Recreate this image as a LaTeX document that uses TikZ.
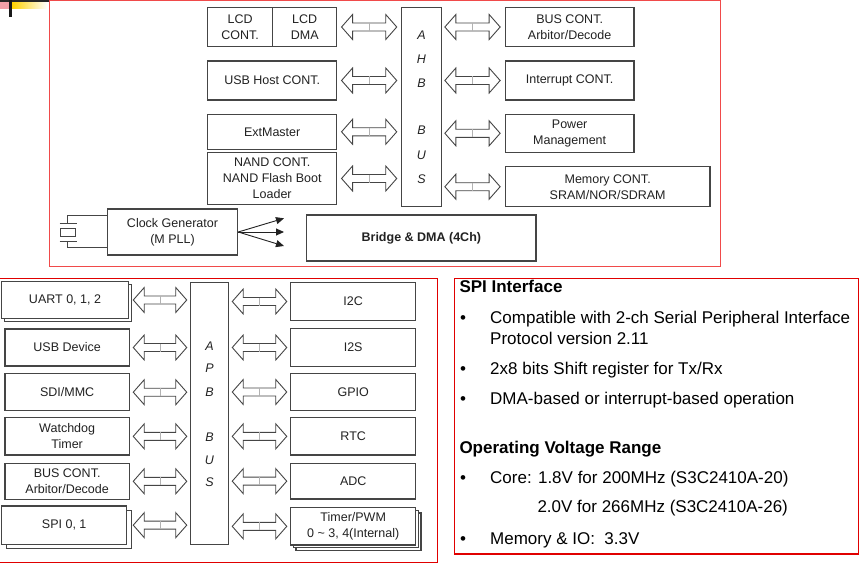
\documentclass[tikz,border=0pt]{standalone}
\usepackage{fontspec}
\setmainfont{Liberation Sans}
\usetikzlibrary{calc,arrows.meta}
\definecolor{topred}{HTML}{F04A4A}
\definecolor{botred}{HTML}{E00000}
\definecolor{ln}{HTML}{454545}
\definecolor{tx}{HTML}{222222}
\definecolor{goldy}{HTML}{FFD200}
\definecolor{pinky}{HTML}{F2A0A8}
\tikzset{
  box/.style={draw=ln, line width=1.1pt, fill=white, align=center, inner sep=0pt,
    text=tx, font=\fontsize{12.5}{16}\selectfont},
  backbox/.style={draw=ln, line width=1.1pt, fill=white},
  harrow/.style={draw=ln, line width=0.9pt, fill=white, line join=miter},
  midtick/.style={draw=black!30, line width=0.5pt},
  busletter/.style={font=\fontsize{12.5}{15}\selectfont\itshape, text=tx, inner sep=0pt},
  toppanel/.style={draw=topred, line width=1.3pt},
  botpanel/.style={draw=botred, line width=1.2pt},
  spec/.style={anchor=base west, inner sep=0pt, font=\fontsize{17}{20}\selectfont, text=black},
  spechead/.style={spec, font=\fontsize{17}{20}\selectfont\bfseries},
  bul/.style={anchor=base, inner sep=0pt, font=\fontsize{17}{20}\selectfont, text=black},
  clkarrow/.style={draw=tx, line width=0.9pt, -{Triangle[length=8pt,width=7pt]}},
  wire/.style={draw=ln, line width=1pt},
}
% \blk[style]{name}{x1}{y1}{x2}{y2}{text}
\newcommand\blk[7][]{\node[box,minimum width={#5-#3},minimum height={#6-#4},#1] (#2) at ({(#3+#5)/2},{(#4+#6)/2}) {#7};}
% \dar{from}{to}{gap1}{gap2}
\newcommand\dar[4]{%
  \path ($(#1)+(#3,0)$) coordinate (p) ($(#2)+(-#4,0)$) coordinate (q);
  \draw[harrow] (p) -- ($(p)+(11,-12.5)$) -- ($(p)+(11,-4)$) -- ($(q)+(-11,-4)$)
    -- ($(q)+(-11,-12.5)$) -- (q) -- ($(q)+(-11,12.5)$) -- ($(q)+(-11,4)$)
    -- ($(p)+(11,4)$) -- ($(p)+(11,12.5)$) -- cycle;
  \draw[midtick] ($(p)!0.5!(q)+(0,-4)$) -- ($(p)!0.5!(q)+(0,4)$);}
\begin{document}
\begin{tikzpicture}[x=1pt,y=-1pt]
\useasboundingbox (0,0) rectangle (864,567);
% ---- top-left decoration
\shade[left color=goldy, right color=white] (12,2) rectangle (47,9);
\fill[pinky] (0,2) rectangle (9,9);
\fill[black!85] (0,0) rectangle (49,2);
\fill[black!90] (9,0) rectangle (12,16.7);

% ================= TOP PANEL =================
\draw[toppanel] (49.3,0.7) rectangle (720.7,266.7);
\blk{lcdc}{207.7}{7.3}{272.7}{46.7}{LCD\\CONT.}
\blk{lcdd}{272.7}{7.3}{336.7}{46.7}{LCD\\DMA}
\blk{usbh}{207.7}{61}{336.7}{100}{USB Host CONT.}
\blk{extm}{207.7}{114.3}{336.7}{149.3}{ExtMaster}
\blk{nand}{207.7}{152.3}{336.7}{204.7}{NAND CONT.\\NAND Flash Boot\\Loader}
\blk{ahb}{401.7}{7.3}{441.3}{206.7}{}
\node[busletter] (ahbA) at (421.5,35) {A};
\node[busletter] (ahbH) at (421.5,59.3) {H};
\node[busletter] (ahbB) at (421.5,83.3) {B};
\node[busletter] (ahbB2) at (421.5,130.7) {B};
\node[busletter] (ahbU) at (421.5,155) {U};
\node[busletter] (ahbS) at (421.5,179) {S};
\blk{busc}{505.3}{7.3}{634}{46.7}{BUS CONT.\\Arbitor/Decode}
\blk{intc}{505.3}{61}{634}{100}{Interrupt CONT.}
\blk{pwr}{505.3}{114.3}{634}{152.3}{Power\\Management}
\blk{mem}{505.3}{166.7}{710}{206.7}{Memory CONT.\\SRAM/NOR/SDRAM}
\blk[font=\fontsize{12.5}{16}\selectfont\bfseries]{brdg}{306.7}{215}{536}{261}{Bridge \& DMA (4Ch)}
\blk{clk}{107.3}{209}{237.7}{255}{Clock Generator\\(M PLL)}

\dar{lcdd.east}{ahb.west |- lcdd.east}{4.3}{4.4}
\dar{usbh.east}{ahb.west |- usbh.east}{4.3}{4.4}
\dar{extm.east}{ahb.west |- extm.east}{4.3}{4.4}
\dar{nand.east}{ahb.west |- nand.east}{4.3}{4.4}
\dar{ahb.east |- busc.west}{busc.west}{3}{4.6}
\dar{ahb.east |- intc.west}{intc.west}{3}{4.6}
\dar{ahb.east |- pwr.west}{pwr.west}{3}{4.6}
\dar{ahb.east |- mem.west}{mem.west}{3}{4.6}

% clock outputs
\coordinate (co1) at (284,218.3);
\coordinate (co2) at (284,232);
\coordinate (co3) at (284,246);
\draw[clkarrow] (clk.east) -- (co1);
\draw[clkarrow] (clk.east) -- (co2);
\draw[clkarrow] (clk.east) -- (co3);
% crystal
\coordinate (xt) at (clk.west |- 0,215.5);
\coordinate (xb) at (clk.west |- 0,247.5);
\draw[wire] (xt) -- (67.5,215.5) -- (67.5,223);
\draw[wire] (xb) -- (67.5,247.5) -- (67.5,241);
\draw[wire] (59.5,223) -- (76.5,223);
\draw[wire] (59.5,241) -- (76.5,241);
\draw[wire] (60.5,228) rectangle (75.5,236);

% ================= BOTTOM-LEFT PANEL =================
\draw[botpanel] (-2,278.3) rectangle (437.3,562.5);
\draw[backbox] (4.7,284.7) rectangle (131.3,321.3);
\blk{uart}{1.7}{281.7}{128.3}{318.3}{UART 0, 1, 2}
\blk{usbd}{5}{329}{129.3}{366}{USB Device}
\blk{sdi}{5}{373.7}{129.3}{410.7}{SDI/MMC}
\blk{wdt}{5}{417.7}{129.3}{455}{Watchdog\\Timer}
\blk{busc2}{5}{463.3}{129.3}{499.3}{BUS CONT.\\Arbitor/Decode}
\draw[backbox] (6.2,510.5) rectangle (131.2,548.8);
\blk{spi}{1.7}{506}{126.7}{544.3}{SPI 0, 1}
\blk{apb}{190.7}{282.3}{228.3}{544.3}{}
\node[busletter] (apbA) at (209.5,345.7) {A};
\node[busletter] (apbP) at (209.5,367.7) {P};
\node[busletter] (apbB) at (209.5,391.7) {B};
\node[busletter] (apbB2) at (209.5,437.3) {B};
\node[busletter] (apbU) at (209.5,460) {U};
\node[busletter] (apbS) at (209.5,482.3) {S};
\blk{i2c}{290.7}{282.3}{415.7}{320.7}{I2C}
\blk{i2s}{290.7}{328.3}{415.7}{366.7}{I2S}
\blk{gpio}{290.7}{373.3}{415.7}{410.7}{GPIO}
\blk{rtc}{290.7}{417.7}{415.7}{455}{RTC}
\blk{adc}{290.7}{463.3}{415.7}{499}{ADC}
\draw[backbox] (296,513) rectangle (421,550.3);
\draw[backbox] (293.4,510.4) rectangle (418.4,547.7);
\blk{tmr}{290.7}{507.7}{415.7}{545}{Timer/PWM\\0 \textasciitilde{} 3, 4(Internal)}

\dar{uart.east}{apb.west |- uart.east}{4.4}{3.4}
\dar{usbd.east}{apb.west |- usbd.east}{3.4}{3.4}
\dar{sdi.east}{apb.west |- sdi.east}{3.4}{3.4}
\dar{wdt.east}{apb.west |- wdt.east}{3.4}{3.4}
\dar{busc2.east}{apb.west |- busc2.east}{3.4}{3.4}
\dar{spi.east}{apb.west |- spi.east}{6}{3.4}
\dar{apb.east |- i2c.west}{i2c.west}{3.4}{3.4}
\dar{apb.east |- i2s.west}{i2s.west}{3.4}{3.4}
\dar{apb.east |- gpio.west}{gpio.west}{3.4}{3.4}
\dar{apb.east |- rtc.west}{rtc.west}{3.4}{3.4}
\dar{apb.east |- adc.west}{adc.west}{3.4}{3.4}
\dar{apb.east |- tmr.west}{tmr.west}{3.4}{3.4}

% ================= RIGHT TEXT PANEL =================
\begin{scope}
\clip (454.3,278.3) rectangle (858.7,554);
\node[spechead] (h1) at (459.3,292) {SPI Interface};
\node[bul] (b1) at (463,323.5) {\textbullet};
\node[spec] (t1) at (490,323.5) {Compatible with 2-ch Serial Peripheral Interface};
\node[spec] (t1b) at (490,344.3) {Protocol version 2.11};
\node[bul] (b2) at (463,374.3) {\textbullet};
\node[spec] (t2) at (490,374.3) {2x8 bits Shift register for Tx/Rx};
\node[bul] (b3) at (463,404.3) {\textbullet};
\node[spec] (t3) at (490,404.3) {DMA-based or interrupt-based operation};
\node[spechead] (h2) at (459.3,453.3) {Operating Voltage Range};
\node[bul] (b4) at (463,483.3) {\textbullet};
\node[spec] (t4) at (490,483.3) {Core: 1.8V for 200MHz (S3C2410A-20)};
\node[spec] (t4b) at (537.3,512.7) {2.0V for 266MHz (S3C2410A-26)};
\node[bul] (b5) at (463,544.3) {\textbullet};
\node[spec] (t5) at (490,544.3) {Memory \& IO:\ \ 3.3V};
\end{scope}
\draw[botpanel] (454.3,278.3) rectangle (858.7,554);
\end{tikzpicture}
\end{document}
